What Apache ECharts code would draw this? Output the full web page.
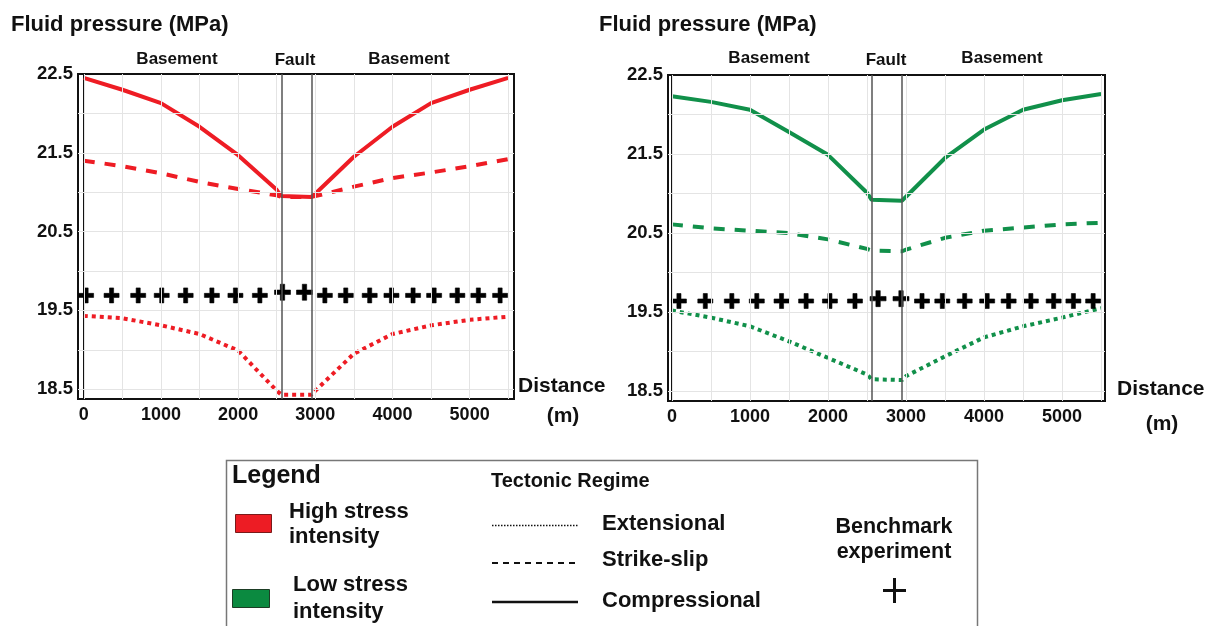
<!DOCTYPE html>
<html>
<head>
<meta charset="utf-8">
<script src="https://cdn.jsdelivr.net/npm/echarts@6/dist/echarts.min.js"></script>
<style>
html,body{margin:0;padding:0;background:#fff;}
#c{width:1209px;height:626px;}
</style>
</head>
<body>
<div id="c"></div>
<script>
// ---- data ----
const distance = [0, 500, 1000, 1500, 2000, 2500, 2560, 2950, 3000, 3500, 4000, 4500, 5000, 5500];
const highCompressional = [22.45, 22.30, 22.13, 21.83, 21.47, 21.03, 20.95, 20.94, 20.98, 21.45, 21.83, 22.13, 22.30, 22.45];
const highStrikeSlip    = [21.40, 21.33, 21.24, 21.13, 21.04, 20.96, 20.94, 20.94, 20.95, 21.07, 21.18, 21.25, 21.33, 21.42];
const highExtensional   = [19.43, 19.40, 19.31, 19.20, 18.99, 18.48, 18.43, 18.43, 18.48, 18.95, 19.20, 19.31, 19.38, 19.42];
const lowCompressional  = [22.23, 22.16, 22.06, 21.78, 21.49, 21.01, 20.92, 20.91, 20.96, 21.45, 21.81, 22.06, 22.18, 22.26];
const lowStrikeSlip     = [20.61, 20.56, 20.53, 20.50, 20.42, 20.30, 20.28, 20.27, 20.29, 20.44, 20.53, 20.57, 20.61, 20.63];
const lowExtensional    = [19.52, 19.43, 19.32, 19.13, 18.92, 18.71, 18.65, 18.64, 18.69, 18.94, 19.18, 19.32, 19.43, 19.55];

const benchHighX = [30, 360, 705, 1010, 1320, 1660, 1965, 2282, 2575, 2860, 3124, 3395, 3705, 3987, 4267, 4540, 4841, 5113, 5395];
const benchHighY = [19.69, 19.69, 19.69, 19.69, 19.69, 19.69, 19.69, 19.69, 19.73, 19.73, 19.69, 19.69, 19.69, 19.69, 19.69, 19.69, 19.69, 19.69, 19.69];
const benchLowX  = [90, 428, 768, 1088, 1405, 1720, 2025, 2346, 2642, 2936, 3205, 3465, 3752, 4040, 4315, 4600, 4892, 5145, 5398];
const benchLowY  = [19.64, 19.64, 19.64, 19.64, 19.64, 19.64, 19.64, 19.64, 19.67, 19.67, 19.64, 19.64, 19.64, 19.64, 19.64, 19.64, 19.64, 19.64, 19.64];

const faultBounds = [2560, 2950];
const xGridValues = [0, 500, 1000, 1500, 2000, 2500, 3000, 3500, 4000, 4500, 5000, 5500];
const yGridValues = [18.5, 19, 19.5, 20, 20.5, 21, 21.5, 22];
const xTickLabels = [0, 1000, 2000, 3000, 4000, 5000];
const yTickLabels = [18.5, 19.5, 20.5, 21.5, 22.5];

// ---- styles ----
const RED = '#ee1c24';
const GREEN = '#11904a';
const FONT = "'Liberation Sans', Arial, sans-serif";
const PLUS = 'path://M0,4h4v-4h3v4h4v3h-4v4h-3v-4h-4z';

const zip = (xs, ys) => xs.map((x, i) => [x, ys[i]]);

function xAxisFor(idx, min, max) {
  return {
    type: 'value', gridIndex: idx, min: min, max: max, interval: 25,
    axisLine: {show: true, lineStyle: {color: '#111', width: 2}},
    axisTick: {show: false},
    splitLine: {show: false},
    axisLabel: {
      margin: 7, color: '#111', fontFamily: FONT, fontWeight: 'bold', fontSize: 18,
      formatter: v => xTickLabels.indexOf(Math.round(v)) >= 0 && Math.abs(v - Math.round(v)) < 1e-6 ? String(Math.round(v)) : ''
    }
  };
}
function yAxisFor(idx) {
  return {
    type: 'value', gridIndex: idx, min: 18.375, max: 22.5, interval: 0.125,
    axisLine: {show: true, lineStyle: {color: '#111', width: 2}},
    axisTick: {show: false},
    splitLine: {show: false},
    axisLabel: {
      margin: 5, color: '#111', fontFamily: FONT, fontWeight: 'bold', fontSize: 18.5,
      padding: [0, 0, 4, 0],
      formatter: v => {
        const r = Math.round(v * 1000);
        return yTickLabels.some(t => Math.round(t * 1000) === r) ? v.toFixed(1) : '';
      }
    }
  };
}

function gridSeries(idx) {
  const mlData = xGridValues.map(v => ({xAxis: v})).concat(yGridValues.map(v => ({yAxis: v})));
  return [{
    type: 'line', xAxisIndex: idx, yAxisIndex: idx, data: [], z: 1, silent: true,
    markLine: {silent: true, symbol: ['none', 'none'], label: {show: false},
      lineStyle: {color: '#e4e4e4', width: 1, type: 'solid'}, data: mlData, animation: false}
  }, {
    type: 'line', xAxisIndex: idx, yAxisIndex: idx, data: [], z: 2, silent: true,
    markLine: {silent: true, symbol: ['none', 'none'], label: {show: false},
      lineStyle: {color: '#555', width: 1.5, type: 'solid'},
      data: faultBounds.map(v => ({xAxis: v})), animation: false}
  }];
}

function curve(idx, ys, color, dash) {
  return {
    type: 'line', xAxisIndex: idx, yAxisIndex: idx, data: zip(distance, ys),
    showSymbol: false, symbol: 'none', z: 3, smooth: false,
    lineStyle: {color: color, width: 4, type: dash, cap: 'butt', opacity: 1}
  };
}
function bench(idx, xs, ys) {
  return {
    type: 'scatter', xAxisIndex: idx, yAxisIndex: idx,
    data: zip(xs, ys).map((p, i) => ({value: p, symbolSize: ys[i] > ys[0] ? 16 : 15})),
    symbol: PLUS, symbolKeepAspect: true, z: 4,
    itemStyle: {color: '#000', opacity: 1, borderColor: '#000', borderWidth: 0.6}
  };
}

function txt(text, x, y, size, align, weight) {
  return {type: 'text', x: x, y: y, silent: true, z: 100,
    style: {text: text, fill: '#111', font: (weight || 'bold') + ' ' + size + 'px ' + FONT,
      textAlign: align || 'left', textVerticalAlign: 'middle'}};
}
function seg(x1, y1, x2, y2, w, dash) {
  return {type: 'line', silent: true, z: 100,
    shape: {x1: x1, y1: y1, x2: x2, y2: y2},
    style: {stroke: '#111', lineWidth: w, lineDash: dash || null}};
}

const chart = echarts.init(document.getElementById('c'), null, {renderer: 'canvas'});
chart.setOption({
  animation: false,
  backgroundColor: '#fff',
  grid: [
    {left: 78, top: 74, width: 436, height: 325, show: true, borderColor: '#111', borderWidth: 2, backgroundColor: '#fff'},
    {left: 668, top: 75, width: 437, height: 326, show: true, borderColor: '#111', borderWidth: 2, backgroundColor: '#fff'}
  ],
  xAxis: [xAxisFor(0, -75, 5575), xAxisFor(1, -50, 5550)],
  yAxis: [yAxisFor(0), yAxisFor(1)],
  series: [].concat(
    gridSeries(0), gridSeries(1),
    [
      curve(0, highExtensional, RED, [4, 4]),
      curve(0, highStrikeSlip, RED, [11, 10]),
      curve(0, highCompressional, RED, 'solid'),
      curve(1, lowExtensional, GREEN, [4, 4]),
      curve(1, lowStrikeSlip, GREEN, [11, 10]),
      curve(1, lowCompressional, GREEN, 'solid'),
      bench(0, benchHighX, benchHighY),
      bench(1, benchLowX, benchLowY)
    ]
  ),
  graphic: [
    txt('Fluid pressure (MPa)', 11, 25, 22),
    txt('Fluid pressure (MPa)', 599, 25, 22),
    txt('Basement', 177, 59, 17, 'center'),
    txt('Fault', 295, 60, 17, 'center'),
    txt('Basement', 409, 59, 17, 'center'),
    txt('Basement', 769, 58, 17, 'center'),
    txt('Fault', 886, 60, 17, 'center'),
    txt('Basement', 1002, 58, 17, 'center'),
    txt('Distance', 518, 386, 21),
    txt('(m)', 563, 416, 21, 'center'),
    txt('Distance', 1117, 389, 21),
    txt('(m)', 1162, 424, 21, 'center'),
    // legend box
    {type: 'rect', silent: true, z: 90, shape: {x: 226.5, y: 460.5, width: 751, height: 175},
      style: {fill: '#fff', stroke: '#777', lineWidth: 1.5}},
    txt('Legend', 232, 476, 25),
    {type: 'rect', silent: true, z: 100, shape: {x: 235.5, y: 514.5, width: 36, height: 18},
      style: {fill: '#ed1c24', stroke: '#7a1a1a', lineWidth: 1}},
    txt('High stress', 289, 512, 22),
    txt('intensity', 289, 537, 22),
    {type: 'rect', silent: true, z: 100, shape: {x: 232.5, y: 589.5, width: 37, height: 18},
      style: {fill: '#0b8a40', stroke: '#1d3d25', lineWidth: 1}},
    txt('Low stress', 293, 585, 22),
    txt('intensity', 293, 612, 22),
    txt('Tectonic Regime', 491, 481, 20),
    seg(492, 525.5, 578, 525.5, 1.5, [1.5, 1.5]),
    seg(492, 563, 578, 563, 2, [6, 5]),
    seg(492, 602, 578, 602, 2.5),
    txt('Extensional', 602, 524, 22),
    txt('Strike-slip', 602, 560, 22),
    txt('Compressional', 602, 601, 22),
    txt('Benchmark', 894, 527, 21.5, 'center'),
    txt('experiment', 894, 552, 21.5, 'center'),
    seg(883, 590.5, 906, 590.5, 3),
    seg(894.5, 578, 894.5, 603, 3)
  ]
});
</script>
</body>
</html>
